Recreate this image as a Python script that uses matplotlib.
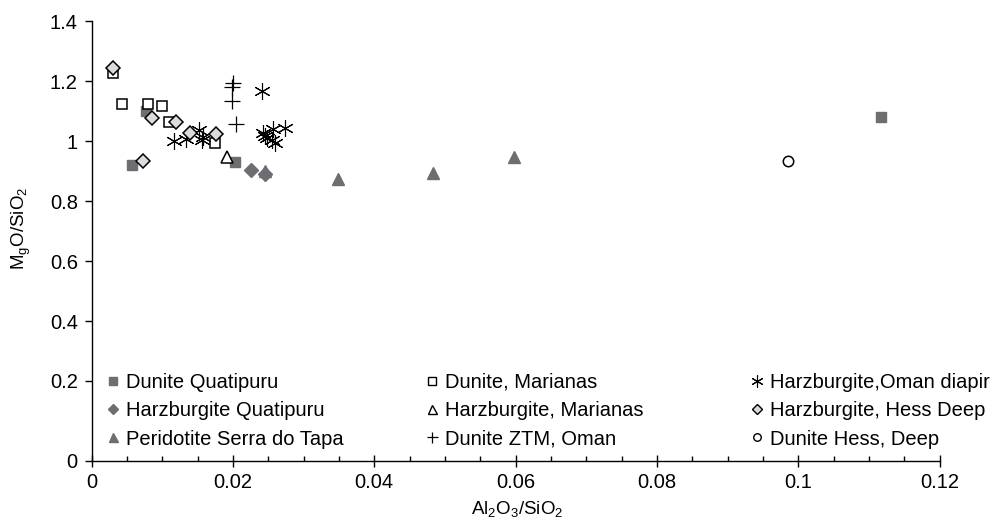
import matplotlib
matplotlib.use('Agg')
import matplotlib.pyplot as plt
from matplotlib.ticker import MultipleLocator, FuncFormatter
from matplotlib.lines import Line2D
from matplotlib.legend import Legend
import numpy as np

plt.rcParams['font.family'] = ['Liberation Sans', 'DejaVu Sans']
plt.rcParams['mathtext.fontset'] = 'custom'
plt.rcParams['mathtext.rm'] = 'Liberation Sans'

# Al2O3/SiO2 (x) and MgO/SiO2 (y)
dun_quat_x = [0.0057, 0.0077, 0.0203, 0.1117]
dun_quat_y = [0.92, 1.10, 0.93, 1.08]

harz_quat_x = [0.0225, 0.0245]
harz_quat_y = [0.905, 0.89]

perid_tapa_x = [0.0245, 0.0349, 0.0483, 0.0598]
perid_tapa_y = [0.90, 0.875, 0.895, 0.948]

dun_mar_x = [0.0030, 0.0043, 0.0079, 0.0099, 0.0110, 0.0175]
dun_mar_y = [1.228, 1.125, 1.123, 1.118, 1.064, 0.995]

harz_mar_x = [0.0191]
harz_mar_y = [0.948]

dun_ztm_x = [0.0200, 0.0199, 0.0198, 0.0204]
dun_ztm_y = [1.192, 1.180, 1.135, 1.058]

harz_oman_x = [0.0117, 0.0134, 0.0152, 0.0156, 0.0158, 0.0241, 0.0243, 0.0245,
               0.0248, 0.0255, 0.0257, 0.0259, 0.0274]
harz_oman_y = [1.000, 1.008, 1.037, 1.002, 1.012, 1.167, 1.028, 1.016,
               1.010, 1.005, 1.040, 0.995, 1.045]

harz_hess_x = [0.0030, 0.0073, 0.0086, 0.0119, 0.0139, 0.0176]
harz_hess_y = [1.244, 0.935, 1.078, 1.065, 1.026, 1.022]

dun_hess_x = [0.0986]
dun_hess_y = [0.932]

GRAY = '#6d6e71'
LIGHT = '#dcdcdc'

# (label, x, y, marker, facecolor, edgecolor, size, edge width)
series1 = [
    ('Dunite Quatipuru', dun_quat_x, dun_quat_y, 's', GRAY, GRAY, 7.5, 1.0),
    ('Harzburgite Quatipuru', harz_quat_x, harz_quat_y, 'D', GRAY, GRAY, 7.5, 1.0),
    ('Peridotite Serra do Tapa', perid_tapa_x, perid_tapa_y, '^', GRAY, GRAY, 9, 1.0),
]
series2 = [
    ('Dunite, Marianas', dun_mar_x, dun_mar_y, 's', 'white', 'black', 7.5, 1.1),
    ('Harzburgite, Marianas', harz_mar_x, harz_mar_y, '^', 'white', 'black', 9, 1.1),
    ('Dunite ZTM, Oman', dun_ztm_x, dun_ztm_y, '+', 'black', 'black', 11, 0.9),
]
series3 = [
    ('Harzburgite,Oman diapir', harz_oman_x, harz_oman_y, (6, 2, 0), 'black', 'black', 12, 0.8),
    ('Harzburgite, Hess Deep', harz_hess_x, harz_hess_y, 'D', LIGHT, 'black', 7.5, 1.1),
    ('Dunite Hess, Deep', dun_hess_x, dun_hess_y, 'o', 'white', 'black', 7.5, 1.1),
]


# the reference stretches the 0-0.2 band of the y axis
def fwd(y):
    y = np.asarray(y, dtype=float)
    return y + np.minimum(y, 0.2) / 3.0


def inv(u):
    u = np.asarray(u, dtype=float)
    return np.where(u < 0.8 / 3.0, u * 0.75, u - 0.2 / 3.0)


fig = plt.figure(figsize=(10.01, 5.28), dpi=100)
ax = fig.add_axes([0.0916, 0.1269, 0.8470, 0.8333])

for group in (series1, series2, series3):
    for label, x, y, m, fc, ec, ms, mew in group:
        ax.plot(x, y, linestyle='none', marker=m, markersize=ms,
                markerfacecolor=fc, markeredgecolor=ec, markeredgewidth=mew,
                color=ec, zorder=3)

ax.set_yscale('function', functions=(fwd, inv))
ax.set_xlim(0, 0.12)
ax.set_ylim(0, 1.4)
ax.set_yticks([0, 0.2, 0.4, 0.6, 0.8, 1.0, 1.2, 1.4])
ax.yaxis.set_minor_locator(plt.NullLocator())
ax.xaxis.set_major_locator(MultipleLocator(0.02))
ax.xaxis.set_minor_locator(MultipleLocator(0.005))
fmt = FuncFormatter(lambda v, p: '%g' % round(v, 4))
ax.xaxis.set_major_formatter(fmt)
ax.yaxis.set_major_formatter(fmt)

for s in ('top', 'right'):
    ax.spines[s].set_visible(False)
for s in ('left', 'bottom'):
    ax.spines[s].set_linewidth(1.0)

ax.tick_params(axis='y', which='major', direction='out', length=5, width=1,
               labelsize=14.5, pad=5)
ax.tick_params(axis='x', which='major', direction='inout', length=8, width=1,
               labelsize=14.5, pad=5)
ax.tick_params(axis='x', which='minor', direction='in', length=3.5, width=1)

ax.set_xlabel(r'$\mathregular{Al_2O_3/SiO_2}$', fontsize=13.5)
ax.set_ylabel(r'$\mathregular{M_gO/SiO_2}$', fontsize=13.5)
ax.xaxis.set_label_coords((517 - 91.7) / 847.8, -(499 - 461) / 440)
ax.yaxis.set_label_coords((33 - 91.7) / 847.8, (461 - 228) / 440)

# legend: three frameless columns
col_x = [104, 423, 748]
for cx, group in zip(col_x, (series1, series2, series3)):
    handles = [Line2D([], [], linestyle='none', marker=m, markersize=ms * 0.72,
                      markerfacecolor=fc, markeredgecolor=ec,
                      markeredgewidth=min(mew, 1.0))
               for label, x, y, m, fc, ec, ms, mew in group]
    labels = [g[0] for g in group]
    leg = Legend(ax, handles, labels, loc='upper left', frameon=False,
                 bbox_to_anchor=(cx / 1001, 1 - 373 / 528),
                 bbox_transform=fig.transFigure, fontsize=14.5,
                 handlelength=0.85, handletextpad=0.25, labelspacing=0.46,
                 borderpad=0, borderaxespad=0)
    ax.add_artist(leg)

fig.savefig('out.png', dpi=100)
